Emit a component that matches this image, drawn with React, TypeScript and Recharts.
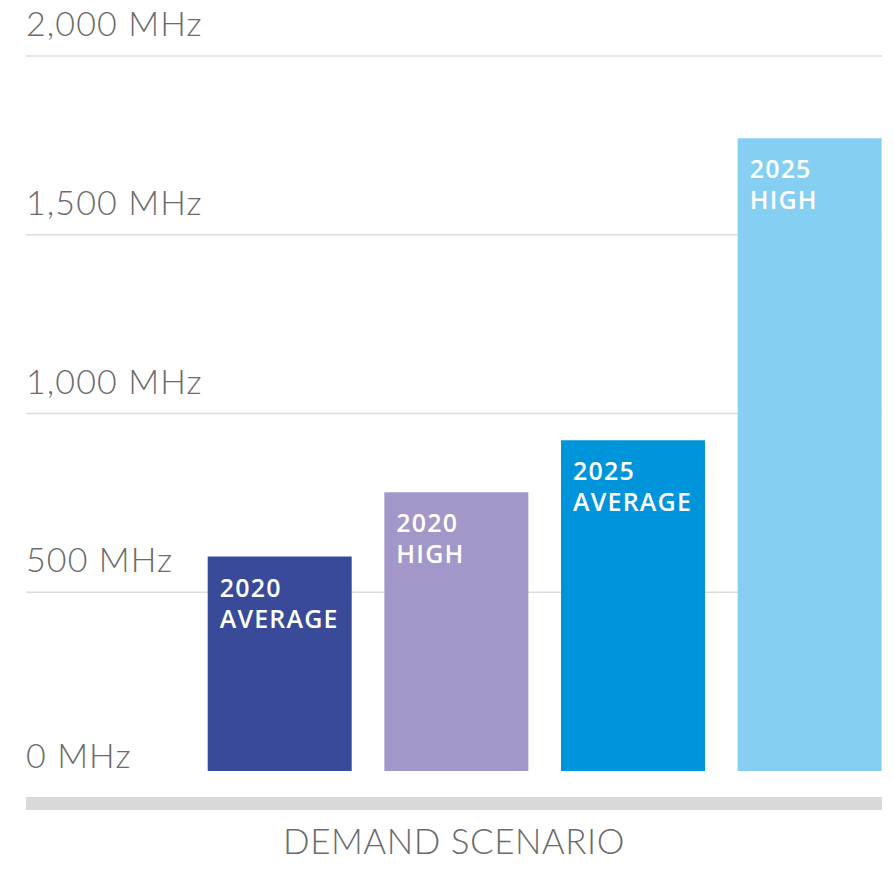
import { Bar, BarChart, CartesianGrid, Cell, LabelList, XAxis, YAxis } from 'recharts'

const scenarios = ['2020 AVERAGE', '2020 HIGH', '2025 AVERAGE', '2025 HIGH']
const demandMHz = [600, 780, 925, 1770]
const barColors = ['#394a98', '#a297c8', '#0095db', '#85cff3']
const yTicks = [0, 500, 1000, 1500, 2000]
const gridValues = [500, 1000, 1500, 2000]
const axisTitle = 'DEMAND SCENARIO'

const data = scenarios.map((scenario, i) => ({ scenario, value: demandMHz[i] }))

const font = 'Lato, "Open Sans", sans-serif'

function formatMHz(value: number) {
  return `${value.toLocaleString('en-US')} MHz`
}

function renderYTick(props: { x?: number; y?: number; payload?: { value: number } }) {
  const value = Number(props.payload?.value ?? 0)
  const lift = value === 0 ? 3 : 20
  return (
    <text
      key={`tick-${value}`}
      x={26}
      y={Number(props.y ?? 0) - lift}
      textAnchor="start"
      fill="#6b6b6b"
      fontSize={34}
      fontWeight={300}
      fontFamily={font}
      letterSpacing={1.1}
    >
      {formatMHz(value)}
    </text>
  )
}

function AxisTitle(props: { viewBox?: { x: number; y: number; width: number; height: number } }) {
  const vb = props.viewBox
  if (!vb) return null
  return (
    <g>
      <rect x={vb.x} y={vb.y + 26} width={vb.width} height={13} fill="#d9d9d9" />
      <text
        x={vb.x + vb.width / 2}
        y={vb.y + 83}
        textAnchor="middle"
        fill="#6b6b6b"
        fontSize={35}
        fontWeight={300}
        fontFamily={font}
        letterSpacing={0.5}
      >
        {axisTitle}
      </text>
    </g>
  )
}

function BarName(props: { x?: number | string; y?: number | string; value?: string | number }) {
  const x = Number(props.x ?? 0)
  const y = Number(props.y ?? 0)
  const lines = String(props.value ?? '').split(' ')
  return (
    <text x={x + 12} y={y + 40} fill="#ffffff" fontSize={25} fontWeight={600} fontFamily='"Open Sans", sans-serif' letterSpacing={1.2}>
      {lines.map((line, i) => (
        <tspan key={line} x={x + 12} dy={i === 0 ? 0 : 31}>
          {line}
        </tspan>
      ))}
    </text>
  )
}

export default function App() {
  return (
    <div style={{ position: 'absolute', left: 0, top: 0 }}>
      <BarChart width={894} height={870} data={data} margin={{ top: 56, right: 12, bottom: 0, left: 6 }}>
        <CartesianGrid horizontal vertical={false} horizontalValues={gridValues} stroke="#dcdcdc" strokeWidth={1.5} />
        <XAxis
          dataKey="scenario"
          height={99}
          tick={false}
          tickLine={false}
          axisLine={false}
          padding={{ left: 165.7, right: -16.3 }}
          label={{ value: axisTitle, content: AxisTitle }}
        />
        <YAxis
          domain={[0, 2000]}
          ticks={yTicks}
          width={20}
          tickSize={0}
          tickMargin={0}
          axisLine={false}
          tickLine={false}
          tick={renderYTick}
          interval={0}
        />
        <Bar dataKey="value" barSize={144} isAnimationActive={false}>
          {data.map((d, i) => (
            <Cell key={d.scenario} fill={barColors[i]} />
          ))}
          <LabelList dataKey="scenario" content={BarName} />
        </Bar>
      </BarChart>
    </div>
  )
}
